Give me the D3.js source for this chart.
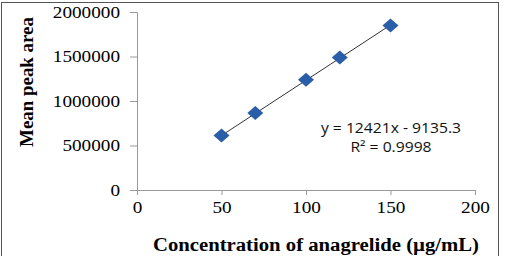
<!DOCTYPE html>
<html>
<head>
<meta charset="utf-8">
<script src="https://cdn.jsdelivr.net/npm/d3@7"></script>
<style>
  body { margin: 0; background: #fff; }
  svg { display: block; }
</style>
</head>
<body>
<svg id="chart" width="506" height="256"></svg>
<script>
// concentrations (µg/mL) and mean peak areas
const concentrations = [50, 70, 100, 120, 150];
const peakAreas = [612000, 866000, 1240000, 1490000, 1848000];
const xTicks = [0, 50, 100, 150, 200];
const yTicks = [0, 500000, 1000000, 1500000, 2000000];
const slope = 12421;
const intercept = -9135.3;
const equationLines = ['y = 12421x - 9135.3', 'R² = 0.9998'];

const svg = d3.select('#chart');
const margin = { top: 12, right: 31, bottom: 66, left: 137 };
const width = 506 - margin.left - margin.right;
const height = 256 - margin.top - margin.bottom;

// the source image is a bit wider than normal glyphs, so stretch texts
function stretch(sel, k) {
  sel.each(function () {
    const len = this.getComputedTextLength();
    d3.select(this)
      .attr('textLength', len * k)
      .attr('lengthAdjust', 'spacingAndGlyphs');
  });
}

// outer frame
svg.append('rect')
  .attr('x', 1.5).attr('y', 2.5)
  .attr('width', 497).attr('height', 260)
  .attr('fill', 'none')
  .attr('stroke', '#555')
  .attr('stroke-width', 1);

const g = svg.append('g').attr('transform', `translate(${margin.left},${margin.top})`);

const x = d3.scaleLinear().domain([0, 200]).range([0, width]);
const y = d3.scaleLinear().domain([0, 2000000]).range([height, 0]);

const serif = '"Liberation Serif", "Times New Roman", serif';

// axes
const xAxis = g.append('g')
  .attr('transform', `translate(0,${height})`)
  .call(d3.axisBottom(x).tickValues(xTicks).tickSize(5).tickPadding(7).tickFormat(d3.format('d')));
const yAxis = g.append('g')
  .call(d3.axisLeft(y).tickValues(yTicks).tickSize(7).tickPadding(10).tickFormat(d3.format('d')));

[xAxis, yAxis].forEach(ax => {
  ax.select('.domain').attr('stroke', '#9a9a9a');
  ax.selectAll('.tick line').attr('stroke', '#9a9a9a');
  ax.selectAll('.tick text')
    .attr('fill', '#000')
    .style('font-family', serif)
    .style('font-size', '16px')
    .call(stretch, 1.2);
});

// trendline from the fitted equation
const fit = d => slope * d + intercept;
const ext = d3.extent(concentrations);
g.append('line')
  .attr('x1', x(ext[0])).attr('y1', y(fit(ext[0])))
  .attr('x2', x(ext[1])).attr('y2', y(fit(ext[1])))
  .attr('stroke', '#333')
  .attr('stroke-width', 1);

// diamond markers
const points = concentrations.map((c, i) => ({ c, v: peakAreas[i] }));
g.selectAll('.pt')
  .data(points)
  .enter()
  .append('path')
  .attr('class', 'pt')
  .attr('transform', d => `translate(${x(d.c)},${y(d.v)})`)
  .attr('d', 'M0,-7L8,0L0,7L-8,0Z')
  .attr('fill', '#2b5ea8');

// equation label
g.selectAll('.eq')
  .data(equationLines)
  .enter()
  .append('text')
  .attr('class', 'eq')
  .attr('x', 254)
  .attr('y', (d, i) => 121 + i * 19)
  .attr('text-anchor', 'middle')
  .style('font-family', '"Open Sans", Arial, sans-serif')
  .style('font-size', '14px')
  .attr('fill', '#111')
  .text(d => d)
  .call(stretch, 1.12);

// axis titles
svg.append('text')
  .attr('x', 316).attr('y', 251)
  .attr('text-anchor', 'middle')
  .style('font-family', serif)
  .style('font-size', '18px')
  .style('font-weight', 'bold')
  .text('Concentration of anagrelide (µg/mL)')
  .call(stretch, 1.15);

svg.append('text')
  .attr('transform', 'translate(33,82) rotate(-90)')
  .attr('text-anchor', 'middle')
  .style('font-family', serif)
  .style('font-size', '18px')
  .style('font-weight', 'bold')
  .text('Mean peak area')
  .call(stretch, 1.05);
</script>
</body>
</html>
